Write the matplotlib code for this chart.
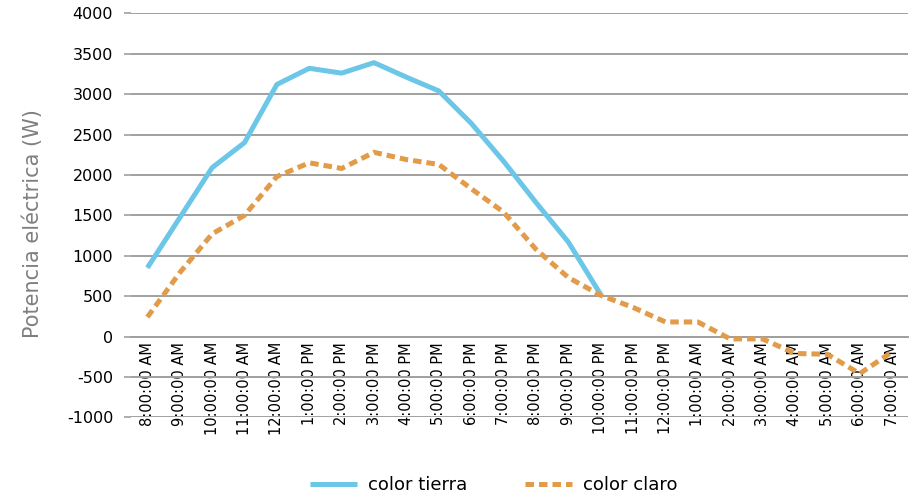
import matplotlib
matplotlib.use("Agg")
import matplotlib.pyplot as plt

hours = ["8:00:00 AM", "9:00:00 AM", "10:00:00 AM", "11:00:00 AM", "12:00:00 AM",
         "1:00:00 PM", "2:00:00 PM", "3:00:00 PM", "4:00:00 PM", "5:00:00 PM",
         "6:00:00 PM", "7:00:00 PM", "8:00:00 PM", "9:00:00 PM", "10:00:00 PM",
         "11:00:00 PM", "12:00:00 PM", "1:00:00 AM", "2:00:00 AM", "3:00:00 AM",
         "4:00:00 AM", "5:00:00 AM", "6:00:00 AM", "7:00:00 AM"]

# color tierra stops at 10 PM
tierra = [850, 1470, 2090, 2400, 3120, 3320, 3260, 3390, 3210, 3040,
          2640, 2170, 1660, 1170, 520]
claro = [240, 790, 1270, 1500, 1980, 2150, 2080, 2280, 2190, 2130,
         1830, 1540, 1080, 730, 510, 360, 180, 180, -30, -30,
         -210, -220, -460, -190]

yticks = list(range(-1000, 4001, 500))

blue = "#6CC6E8"
orange = "#E19B49"
grid = "#A0A0A0"

plt.rcParams["font.family"] = ["DejaVu Sans"]
plt.rcParams["axes.unicode_minus"] = False

fig = plt.figure(figsize=(9.11, 4.95), dpi=100)
ax = fig.add_axes([0.144, 0.157, 0.853, 0.816])

x = list(range(len(hours)))
ax.plot(x[:len(tierra)], tierra, color=blue, lw=3.6, label="color tierra",
        solid_capstyle="butt", zorder=3)
ax.plot(x, claro, color=orange, lw=3.6, linestyle=(0, (1.7, 1.0)),
        label="color claro", zorder=3)

ax.set_xlim(-0.5, len(hours) - 0.5)
ax.set_ylim(-1000, 4000)
ax.set_yticks(yticks)
ax.yaxis.grid(True, color=grid, lw=1.4)
ax.set_axisbelow(True)

for s in ["top", "right", "left"]:
    ax.spines[s].set_visible(False)
ax.spines["bottom"].set_position(("data", 0))
ax.spines["bottom"].set_color(grid)
ax.spines["bottom"].set_linewidth(1.4)

ax.set_xticks(x)
ax.set_xticklabels(hours, rotation=90, fontsize=10.5)
ax.tick_params(axis="x", length=0, pad=4)
ax.tick_params(axis="y", length=5, color=grid, width=1.2, pad=8, labelsize=11.5)

ax.set_ylabel("Potencia eléctrica (W)", fontsize=15, color="#7F7F7F")
ax.yaxis.set_label_coords(-0.113, 0.48)

fig.legend(loc="center", bbox_to_anchor=(0.542, 0.02), ncol=2, frameon=False,
           fontsize=13, handlelength=2.6, columnspacing=3.2, handletextpad=0.6)

fig.savefig("out.png", dpi=100)
